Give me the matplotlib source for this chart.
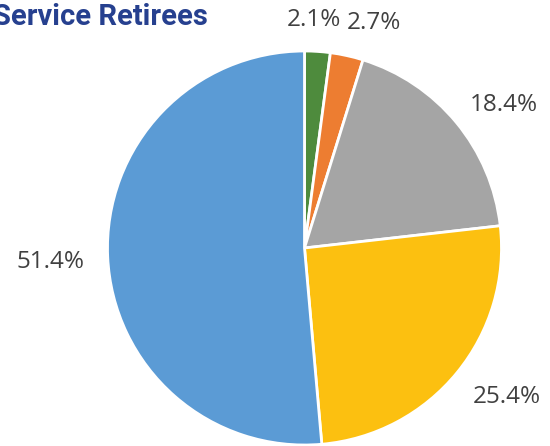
import numpy as np
import matplotlib.pyplot as plt

# Service retirees share by group
shares = [2.1, 2.7, 18.4, 25.4, 51.4]
colors = ["#4e8b3d", "#ed7d31", "#a5a5a5", "#fcc010", "#5b9bd5"]
labels = ["%.1f%%" % s for s in shares]

# label placement: distance from centre (in radii), nudge and alignment
lab_r = [1.16, 1.17, 1.09, 1.10, 1.118]
lab_nudge = [(-0.03, 0.0), (0.10, 0.0), (0.0, 0.03), (0.0, -0.06), (0.0, -0.02)]
lab_ha = ["center", "center", "left", "left", "right"]

fig = plt.figure(figsize=(5.5, 4.46), dpi=100)
ax = fig.add_axes([107 / 550, 1 / 446, 395 / 550, 394 / 446])

wedges, _ = ax.pie(shares, colors=colors, startangle=90, counterclock=False,
                   wedgeprops=dict(edgecolor="white", linewidth=2))
ax.set_xlim(-1, 1)
ax.set_ylim(-1, 1)
ax.set_aspect("equal")

for w, txt, r, (dx, dy), ha in zip(wedges, labels, lab_r, lab_nudge, lab_ha):
    theta = np.deg2rad((w.theta1 + w.theta2) / 2)
    ax.text(r * np.cos(theta) + dx, r * np.sin(theta) + dy, txt, ha=ha,
            va="center", fontsize=17.5, color="#404040", family="Open Sans",
            clip_on=False)

fig.text(-0.012, 0.962, "Service Retirees", ha="left", va="center",
         fontsize=21, fontweight="bold", color="#26408f", family="Roboto")

fig.savefig("out.png", dpi=100)
